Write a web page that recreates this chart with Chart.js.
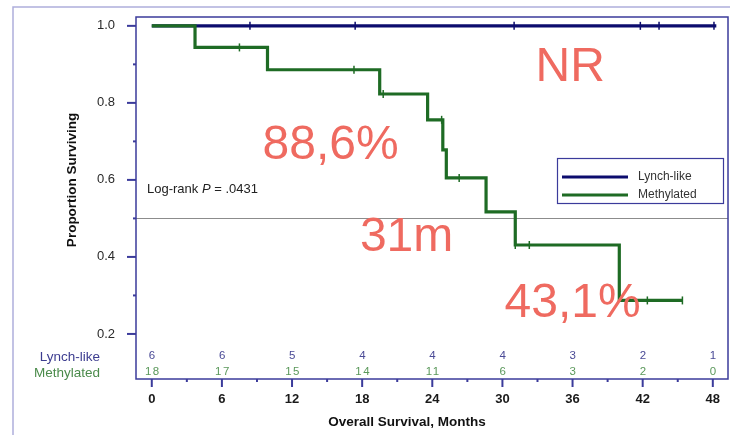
<!DOCTYPE html>
<html>
<head>
<meta charset="utf-8">
<script src="https://cdn.jsdelivr.net/npm/chart.js@4/dist/chart.umd.min.js"></script>
<style>
  html, body { margin: 0; padding: 0; background: #ffffff; }
  #wrap { width: 730px; height: 435px; position: relative; }
</style>
</head>
<body>
<div id="wrap"><canvas id="km" width="730" height="435" style="width:730px;height:435px"></canvas></div>
<script>
// Axis ticks (months / proportion)
const xTicks = [0, 6, 12, 18, 24, 30, 36, 42, 48];
const yTicks = [0.2, 0.4, 0.6, 0.8, 1.0];

// Group names
const groups = ['Lynch-like', 'Methylated'];

// Kaplan-Meier step curves: event times (months) and survival after each step
const lynchTimes = [0, 48.3];
const lynchSurv = [1.0, 1.0];
const methTimes = [0, 3.7, 9.9, 19.5, 23.6, 24.9, 25.2, 28.6, 31.1, 40.0, 45.4];
const methSurv = [1.0, 0.944, 0.886, 0.823, 0.756, 0.678, 0.605, 0.517, 0.431, 0.287, 0.287];

// Censoring times (months)
const lynchCensored = [8.4, 17.4, 31.0, 41.8, 43.4, 48.1];
const methCensored = [7.5, 17.3, 19.8, 24.8, 26.3, 31.1, 32.3, 42.4, 45.4];

// Numbers at risk at each x tick
const lynchAtRisk = [6, 6, 5, 4, 4, 4, 3, 2, 1];
const methAtRisk = [18, 17, 15, 14, 11, 6, 3, 2, 0];

// Callout texts
const callouts = ['NR', '88,6%', '31m', '43,1%'];
const pValueText = '.0431';

const BLUE = '#0c0c6e';
const GREEN = '#1e6b24';
const AXIS = '#3b3b9b';
const RED = '#ef6a60';
const FONT = '"Liberation Sans", Arial, sans-serif';

function survAt(times, surv, t) {
  let s = surv[0];
  for (let i = 0; i < times.length; i++) if (times[i] <= t) s = surv[i];
  return s;
}
const toPts = (times, surv) => times.map((t, i) => ({ x: t, y: surv[i] }));
const censorPts = (cens, times, surv) => cens.map(t => ({ x: t, y: survAt(times, surv, t) }));

function noPad(s) {
  s.paddingLeft = 0; s.paddingRight = 0; s.paddingTop = 0; s.paddingBottom = 0;
}

const decor = {
  id: 'decor',
  beforeDatasetsDraw(chart) {
    const { ctx, chartArea: a, scales: { x, y } } = chart;
    ctx.save();
    // outer frame
    ctx.strokeStyle = '#aeaedb';
    ctx.lineWidth = 1.5;
    ctx.beginPath();
    ctx.moveTo(13, 435); ctx.lineTo(13, 7); ctx.lineTo(730, 7);
    ctx.stroke();
    // median reference line
    const ym = Math.round(y.getPixelForValue(0.5)) + 0.5;
    ctx.strokeStyle = '#8c8c8c';
    ctx.lineWidth = 1;
    ctx.beginPath();
    ctx.moveTo(a.left, ym); ctx.lineTo(a.right, ym);
    ctx.stroke();
    ctx.restore();
  },
  afterDraw(chart) {
    const { ctx, chartArea: a, scales: { x, y } } = chart;
    ctx.save();
    // plot frame
    ctx.strokeStyle = AXIS;
    ctx.lineWidth = 1.5;
    ctx.strokeRect(a.left, a.top, a.right - a.left, a.bottom - a.top);
    ctx.lineWidth = 2;
    // y ticks (major and minor)
    for (let v = 0.2; v <= 1.0001; v += 0.1) {
      const py = y.getPixelForValue(v);
      const major = Math.round(v * 10) % 2 === 0;
      ctx.beginPath();
      ctx.moveTo(a.left - (major ? 9 : 3), py); ctx.lineTo(a.left, py);
      ctx.stroke();
    }
    // x ticks (major and minor)
    for (let m = 0; m <= 48; m += 3) {
      const px = x.getPixelForValue(m);
      const major = m % 6 === 0;
      ctx.beginPath();
      ctx.moveTo(px, a.bottom); ctx.lineTo(px, a.bottom + (major ? 8 : 3));
      ctx.stroke();
    }

    // numbers at risk
    ctx.textAlign = 'right';
    ctx.textBaseline = 'middle';
    ctx.font = '13.5px ' + FONT;
    ctx.fillStyle = '#3d3d90';
    ctx.fillText(groups[0], 100, a.bottom - 22);
    ctx.fillStyle = '#4b8b4b';
    ctx.fillText(groups[1], 100, a.bottom - 6);
    ctx.font = '11.5px ' + FONT;
    ctx.textAlign = 'center';
    try { ctx.letterSpacing = '1.5px'; } catch (e) {}
    xTicks.forEach((t, i) => {
      const px = x.getPixelForValue(t);
      ctx.fillStyle = '#4a4a96';
      ctx.fillText(String(lynchAtRisk[i]), px + 1, a.bottom - 23);
      ctx.fillStyle = '#5a985a';
      ctx.fillText(String(methAtRisk[i]), px + 1, a.bottom - 7);
    });
    try { ctx.letterSpacing = '0px'; } catch (e) {}

    // axis titles
    ctx.fillStyle = '#111';
    ctx.font = 'bold 13.5px ' + FONT;
    ctx.textAlign = 'center';
    ctx.fillText('Overall Survival, Months', 407, 422);
    ctx.save();
    ctx.translate(72, 180);
    ctx.rotate(-Math.PI / 2);
    ctx.fillText('Proportion Surviving', 0, 0);
    ctx.restore();

    // log-rank text
    ctx.textAlign = 'left';
    ctx.fillStyle = '#222';
    ctx.font = '13px ' + FONT;
    let tx = 147;
    const ty = 189;
    const s1 = 'Log-rank ';
    ctx.fillText(s1, tx, ty); tx += ctx.measureText(s1).width;
    ctx.font = 'italic 13px ' + FONT;
    ctx.fillText('P', tx, ty); tx += ctx.measureText('P').width;
    ctx.font = '13px ' + FONT;
    ctx.fillText(' = ' + pValueText, tx, ty);

    // legend
    ctx.strokeStyle = AXIS;
    ctx.lineWidth = 1.2;
    ctx.strokeRect(557.5, 158.5, 166, 45);
    const legendRows = [[groups[0], chart.data.datasets[0].borderColor, 177], [groups[1], chart.data.datasets[1].borderColor, 195]];
    legendRows.forEach(([label, color, ly]) => {
      ctx.strokeStyle = color;
      ctx.lineWidth = 3;
      ctx.beginPath();
      ctx.moveTo(562, ly); ctx.lineTo(628, ly);
      ctx.stroke();
      ctx.fillStyle = '#333';
      ctx.font = '12px ' + FONT;
      ctx.textAlign = 'left';
      ctx.fillText(label, 638, ly);
    });

    // callouts anchored in data space
    const anchors = [[35.8, 0.89], [15.3, 0.688], [21.8, 0.449], [36.0, 0.278]];
    ctx.fillStyle = RED;
    ctx.textAlign = 'center';
    ctx.textBaseline = 'middle';
    ctx.font = '48px ' + FONT;
    callouts.forEach((txt, i) => {
      const [mx, my] = anchors[i];
      ctx.fillText(txt, x.getPixelForValue(mx), y.getPixelForValue(my));
    });
    ctx.restore();
  }
};

new Chart(document.getElementById('km'), {
  type: 'line',
  data: {
    datasets: [
      {
        label: groups[0],
        data: toPts(lynchTimes, lynchSurv),
        borderColor: BLUE,
        borderWidth: 3.2,
        stepped: 'before',
        pointRadius: 0,
        order: 3
      },
      {
        label: groups[1],
        data: toPts(methTimes, methSurv),
        borderColor: GREEN,
        borderWidth: 3.2,
        stepped: 'before',
        pointRadius: 0,
        order: 1
      },
      {
        label: groups[0] + ' censored',
        data: censorPts(lynchCensored, lynchTimes, lynchSurv),
        showLine: false,
        pointStyle: 'line',
        rotation: 90,
        pointRadius: 4,
        borderColor: BLUE,
        backgroundColor: BLUE,
        pointBorderWidth: 1.5,
        order: 2
      },
      {
        label: groups[1] + ' censored',
        data: censorPts(methCensored, methTimes, methSurv),
        showLine: false,
        pointStyle: 'line',
        rotation: 90,
        pointRadius: 4,
        borderColor: GREEN,
        backgroundColor: GREEN,
        pointBorderWidth: 1.5,
        order: 0
      }
    ]
  },
  options: {
    responsive: false,
    animation: false,
    devicePixelRatio: 1,
    layout: { autoPadding: false, padding: { top: 17, right: 2, left: 0, bottom: 0 } },
    plugins: { legend: { display: false }, tooltip: { enabled: false } },
    elements: { line: { tension: 0 } },
    scales: {
      x: {
        type: 'linear',
        min: -1.35,
        max: 49.3,
        grid: { display: false },
        border: { display: false },
        afterBuildTicks: s => { s.ticks = xTicks.map(v => ({ value: v })); },
        afterFit: s => { s.height = 56; noPad(s); },
        ticks: {
          padding: 5,
          color: '#1a1a1a',
          font: { family: FONT, size: 13, weight: 'bold' },
          maxRotation: 0,
          callback: v => String(v)
        }
      },
      y: {
        type: 'linear',
        min: 0.083,
        max: 1.023,
        grid: { display: false },
        border: { display: false },
        afterBuildTicks: s => { s.ticks = yTicks.map(v => ({ value: v })); },
        afterFit: s => { s.width = 136; noPad(s); },
        ticks: {
          padding: 13,
          color: '#2a2a2a',
          font: { family: FONT, size: 13 },
          callback: v => Number(v).toFixed(1)
        }
      }
    }
  },
  plugins: [decor]
});
</script>
</body>
</html>
